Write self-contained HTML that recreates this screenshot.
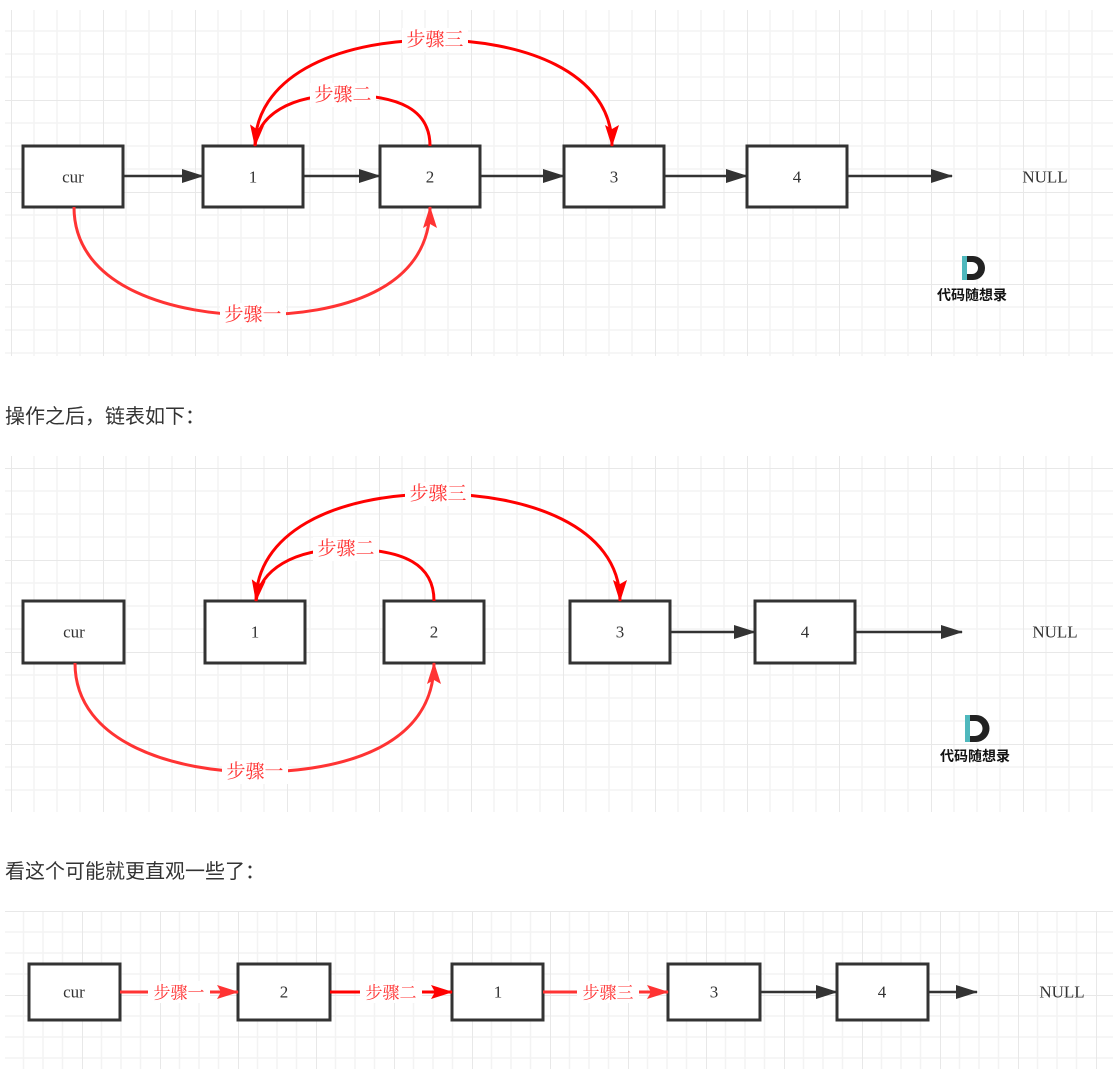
<!DOCTYPE html>
<html><head><meta charset="utf-8"><style>
html,body{margin:0;padding:0;background:#fff;width:1115px;height:1069px;overflow:hidden}
.t{position:absolute;left:5px;font:20px "Liberation Sans","Noto Sans CJK SC",sans-serif;color:#333}
svg{position:absolute;left:0;top:0}
</style></head><body>
<svg width="1115" height="1069" viewBox="0 0 1115 1069" font-family="Liberation Serif, Noto Serif CJK SC, serif">
<defs>
<pattern id="g1" x="11" y="8" width="92" height="92" patternUnits="userSpaceOnUse">
<path d="M0 0V92M23 0V92M46 0V92M69 0V92M0 0H92M0 23H92M0 46H92M0 69H92" stroke="#f3f3f3" stroke-width="1.5" fill="none"/>
<path d="M0 0V92M0 0H92" stroke="#e8e8e8" stroke-width="2" fill="none"/>
</pattern>
<pattern id="g3" x="4" y="911" width="78" height="84" patternUnits="userSpaceOnUse">
<path d="M0 0V84M19.5 0V84M39 0V84M58.5 0V84M0 0H78M0 21H78M0 42H78M0 63H78" stroke="#f3f3f3" stroke-width="1.5" fill="none"/>
<path d="M0 0V84M0 0H78" stroke="#e8e8e8" stroke-width="2" fill="none"/>
</pattern>
<marker id="ab" markerWidth="22" markerHeight="14" refX="21" refY="7" orient="auto" markerUnits="userSpaceOnUse"><path d="M0 0L22 7L0 14Z" fill="#333"/></marker>
<marker id="ar" markerWidth="22" markerHeight="14" refX="21" refY="7" orient="auto" markerUnits="userSpaceOnUse"><path d="M0 0L22 7L0 14L4 7Z" fill="#f00"/></marker>
<marker id="ar2" markerWidth="22" markerHeight="14" refX="21" refY="7" orient="auto" markerUnits="userSpaceOnUse"><path d="M0 0L22 7L0 14L4 7Z" fill="#ff3333"/></marker>
</defs>
<rect x="5" y="10" width="1108" height="346" fill="url(#g1)"/>
<rect x="5" y="456" width="1108" height="356" fill="url(#g1)"/>
<rect x="5" y="911" width="1108" height="158" fill="url(#g3)"/>

<g stroke="#333" stroke-width="3" fill="#fff">
<rect x="23" y="146" width="100" height="61"/><rect x="203" y="146" width="100" height="61"/><rect x="380" y="146" width="100" height="61"/><rect x="564" y="146" width="100" height="61"/><rect x="747" y="146" width="100" height="61"/>
<rect x="23" y="601" width="101" height="62"/><rect x="205" y="601" width="100" height="62"/><rect x="384" y="601" width="100" height="62"/><rect x="570" y="601" width="100" height="62"/><rect x="755" y="601" width="100" height="62"/>
<rect x="29" y="964" width="91" height="56"/><rect x="238" y="964" width="92" height="56"/><rect x="452" y="964" width="91" height="56"/><rect x="668" y="964" width="92" height="56"/><rect x="837" y="964" width="91" height="56"/>
</g>
<g stroke="#333" stroke-width="2.5" marker-end="url(#ab)">
<path d="M123 176H203"/><path d="M303 176H380"/><path d="M480 176H564"/><path d="M664 176H747"/><path d="M847 176H952"/>
<path d="M670 632H755"/><path d="M855 632H962"/>
<path d="M760 992H837"/><path d="M928 992H977"/>
</g>
<g fill="none" stroke-width="3">
<path d="M255 146C255 80 330 40 435 40C520 40 612 70 612 146" stroke="#f00" marker-end="url(#ar)"/>
<path d="M430 146C430 110 400 95 343 95C290 95 258 115 255 146" stroke="#f00" marker-end="url(#ar)"/>
<path d="M74 207C74 290 180 315 253 315C340 315 430 290 430 207" stroke="#ff3333" marker-end="url(#ar2)"/>
<path d="M256 601C256 535 330 494 438 494C525 494 620 525 620 601" stroke="#f00" marker-end="url(#ar)"/>
<path d="M434 601C434 565 405 549 346 549C293 549 260 570 256 601" stroke="#f00" marker-end="url(#ar)"/>
<path d="M75 663C75 745 180 772 255 772C345 772 434 745 434 663" stroke="#ff3333" marker-end="url(#ar2)"/>
<path d="M120 992H238" stroke="#ff3333" marker-end="url(#ar2)"/>
<path d="M330 992H452" stroke="#f00" marker-end="url(#ar)"/>
<path d="M543 992H668" stroke="#ff3333" marker-end="url(#ar2)"/>
</g>
<g font-size="17" fill="#333" text-anchor="middle" dominant-baseline="central">
<text x="73" y="177">cur</text><text x="253" y="177">1</text><text x="430" y="177">2</text><text x="614" y="177">3</text><text x="797" y="177">4</text><text x="1045" y="177">NULL</text>
<text x="74" y="632">cur</text><text x="255" y="632">1</text><text x="434" y="632">2</text><text x="620" y="632">3</text><text x="805" y="632">4</text><text x="1055" y="632">NULL</text>
<text x="74" y="992">cur</text><text x="284" y="992">2</text><text x="498" y="992">1</text><text x="714" y="992">3</text><text x="882" y="992">4</text><text x="1062" y="992">NULL</text>
</g>
<g font-size="19" fill="#ff3333" text-anchor="middle" dominant-baseline="central">
<rect x="402" y="28" width="66" height="24" fill="#fff"/><text x="435" y="40">步骤三</text>
<rect x="310" y="83" width="66" height="24" fill="#fff"/><text x="343" y="95">步骤二</text>
<rect x="220" y="303" width="66" height="24" fill="#fff"/><text x="253" y="315">步骤一</text>
<rect x="405" y="482" width="66" height="24" fill="#fff"/><text x="438" y="494">步骤三</text>
<rect x="313" y="537" width="66" height="24" fill="#fff"/><text x="346" y="549">步骤二</text>
<rect x="222" y="760" width="66" height="24" fill="#fff"/><text x="255" y="772">步骤一</text>
<rect x="148" y="981" width="62" height="22" fill="#fff"/><text x="179" y="993" font-size="17">步骤一</text>
<rect x="360" y="981" width="62" height="22" fill="#fff"/><text x="391" y="993" font-size="17">步骤二</text>
<rect x="577" y="981" width="62" height="22" fill="#fff"/><text x="608" y="993" font-size="17">步骤三</text>
</g>
<g>
<rect x="962" y="256" width="5" height="24" fill="#4fb8bd"/><path d="M967 256H973A12 12 0 0 1 973 280H967Z" fill="#222"/><path d="M967 262H972A6 6 0 0 1 972 274H967Z" fill="#fff"/>
<text x="972" y="300" font-size="14" font-weight="bold" fill="#111" text-anchor="middle" font-family="Noto Sans CJK SC,sans-serif">代码随想录</text>
<rect x="965" y="715" width="5" height="27" fill="#4fb8bd"/><path d="M970 715H976A13.5 13.5 0 0 1 976 742H970Z" fill="#222"/><path d="M970 721H975A7.5 7.5 0 0 1 975 736H970Z" fill="#fff"/>
<text x="975" y="761" font-size="14" font-weight="bold" fill="#111" text-anchor="middle" font-family="Noto Sans CJK SC,sans-serif">代码随想录</text>
</g>
</svg>
<div class="t" style="top:400px">操作之后，链表如下：</div>
<div class="t" style="top:855px">看这个可能就更直观一些了：</div>
</body></html>
